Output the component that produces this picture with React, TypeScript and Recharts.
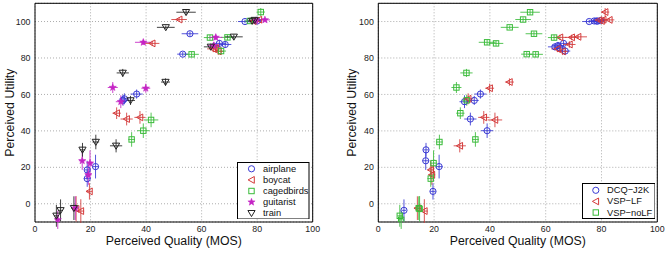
import React from "react";
import {
  ScatterChart,
  Scatter,
  XAxis,
  YAxis,
  CartesianGrid,
  ErrorBar,
  ReferenceArea,
  Legend,
  Label,
} from "recharts";

type Method = "D" | "L" | "N";
// [quality (MOS), utility, quality err, utility err, coding method]
type Row = [number, number, number, number, Method];

const AIRPLANE: Row[] = [
  [75.6, 100.0, 2.5, 1.0, "D"],
  [66.4, 88.0, 2.5, 1.8, "D"],
  [36.6, 60.2, 2.2, 2.5, "D"],
  [21.8, 20.4, 1.2, 6.5, "D"],
  [80.0, 100.3, 1.5, 1.0, "L"],
  [68.5, 87.4, 2.2, 1.8, "L"],
  [32.2, 57.6, 1.8, 3.0, "L"],
  [18.8, 18.6, 1.0, 5.0, "L"],
  [55.8, 93.3, 3.0, 1.2, "N"],
  [53.2, 82.1, 2.0, 1.2, "N"],
  [31.7, 56.8, 1.6, 3.0, "N"],
  [18.8, 13.8, 1.2, 4.5, "N"],
];

const BOYCAT: Row[] = [
  [78.6, 100.2, 1.8, 1.0, "D"],
  [65.0, 85.6, 2.2, 2.0, "D"],
  [33.0, 46.5, 2.2, 3.5, "D"],
  [19.6, 6.8, 1.0, 4.5, "D"],
  [80.6, 101.0, 1.8, 1.2, "L"],
  [64.2, 85.0, 2.2, 1.8, "L"],
  [66.0, 83.6, 2.0, 2.0, "L"],
  [37.8, 47.4, 2.0, 3.5, "L"],
  [16.5, -4.0, 1.2, 6.5, "L"],
  [51.9, 101.1, 2.8, 1.2, "N"],
  [42.2, 88.0, 2.6, 1.5, "N"],
  [29.4, 49.7, 1.5, 3.2, "N"],
  [14.8, -2.8, 1.0, 7.0, "N"],
];

const CAGEDBIRDS: Row[] = [
  [77.4, 100.3, 1.8, 1.0, "D"],
  [67.0, 83.8, 1.8, 2.0, "D"],
  [39.0, 40.1, 2.2, 4.0, "D"],
  [81.3, 105.2, 1.5, 2.2, "L"],
  [69.3, 91.3, 2.4, 1.5, "L"],
  [41.8, 46.0, 2.6, 4.0, "L"],
  [63.0, 91.2, 2.2, 1.5, "N"],
  [56.4, 82.0, 2.6, 1.5, "N"],
  [34.8, 35.3, 1.2, 4.0, "N"],
];

const GUITARIST: Row[] = [
  [79.6, 100.5, 1.8, 1.0, "D"],
  [64.4, 86.8, 2.2, 2.0, "D"],
  [30.9, 56.0, 1.8, 3.5, "D"],
  [17.0, 23.6, 1.2, 5.0, "D"],
  [82.8, 100.9, 1.8, 1.0, "L"],
  [65.1, 91.3, 2.4, 1.5, "L"],
  [39.9, 63.4, 1.6, 2.5, "L"],
  [19.2, 15.9, 1.2, 5.5, "L"],
  [39.0, 88.6, 3.0, 1.5, "N"],
  [28.0, 63.8, 1.8, 3.0, "N"],
  [19.8, 22.3, 1.2, 7.0, "N"],
  [14.5, -2.4, 1.0, 6.5, "N"],
  [8.2, -8.8, 1.0, 5.0, "N"],
];

const TRAIN: Row[] = [
  [78.2, 100.3, 2.0, 1.0, "D"],
  [63.3, 86.1, 2.5, 1.8, "D"],
  [34.4, 56.7, 1.6, 2.5, "D"],
  [17.1, 29.6, 1.0, 3.8, "D"],
  [9.2, -3.6, 0.8, 6.0, "D"],
  [79.1, 100.8, 2.0, 1.2, "L"],
  [71.6, 91.6, 3.2, 1.2, "L"],
  [47.0, 66.8, 1.6, 2.0, "L"],
  [29.2, 31.8, 2.2, 3.6, "L"],
  [14.0, -2.4, 1.0, 6.5, "L"],
  [54.4, 105.1, 3.5, 1.5, "N"],
  [47.1, 96.8, 3.2, 1.0, "N"],
  [31.6, 71.8, 2.2, 2.2, "N"],
  [21.9, 33.9, 1.2, 4.0, "N"],
  [7.7, -6.6, 0.9, 6.0, "N"],
];

const QUALITY_TICKS = [0, 20, 40, 60, 80, 100];
const UTILITY_TICKS = [0, 20, 40, 60, 80, 100];

const BLUE = "#3838d4";
const RED = "#d43a3a";
const GREEN = "#3abb3a";
const MAGENTA = "#c424c4";
const BLACK = "#222";

type MarkerKind = "circle" | "left" | "square" | "star" | "down";

const CONTENTS = [
  { name: "airplane", rows: AIRPLANE, color: BLUE, marker: "circle" as MarkerKind },
  { name: "boycat", rows: BOYCAT, color: RED, marker: "left" as MarkerKind },
  { name: "cagedbirds", rows: CAGEDBIRDS, color: GREEN, marker: "square" as MarkerKind },
  { name: "guitarist", rows: GUITARIST, color: MAGENTA, marker: "star" as MarkerKind },
  { name: "train", rows: TRAIN, color: BLACK, marker: "down" as MarkerKind },
];

const METHODS = [
  { key: "D" as Method, name: "DCQ\u2212J2K", color: BLUE, marker: "circle" as MarkerKind },
  { key: "L" as Method, name: "VSP\u2212LF", color: RED, marker: "left" as MarkerKind },
  { key: "N" as Method, name: "VSP\u2212noLF", color: GREEN, marker: "square" as MarkerKind },
];

const ALL_ROWS = CONTENTS.flatMap((c) => c.rows);

const toPoints = (rows: Row[]) =>
  rows.map(([q, u, qErr, uErr]) => ({ q, u, qErr, uErr }));

const PANEL_W = 335;
const PANEL_H = 253;
const PLOT_TOP = 3.3;
const PLOT_BOTTOM = 222;
const FONT = "'Liberation Sans', Arial, Helvetica, sans-serif";

function Glyph({ kind, color, x, y }: { kind: MarkerKind; color: string; x: number; y: number }) {
  const sw = 1;
  switch (kind) {
    case "circle":
      return <circle cx={x} cy={y} r={3.1} fill="none" stroke={color} strokeWidth={sw} />;
    case "left":
      return (
        <polygon
          points={`${x - 3.4},${y} ${x + 2.8},${y - 3.4} ${x + 2.8},${y + 3.4}`}
          fill="none"
          stroke={color}
          strokeWidth={sw}
        />
      );
    case "square":
      return <rect x={x - 2.7} y={y - 2.7} width={5.4} height={5.4} fill="none" stroke={color} strokeWidth={sw} />;
    case "down":
      return (
        <polygon
          points={`${x - 3.6},${y - 2.7} ${x + 3.6},${y - 2.7} ${x},${y + 3.4}`}
          fill="none"
          stroke={color}
          strokeWidth={sw}
        />
      );
    case "star": {
      const pts: string[] = [];
      for (let i = 0; i < 10; i++) {
        const r = i % 2 === 0 ? 3.8 : 1.6;
        const a = -Math.PI / 2 + (i * Math.PI) / 5;
        pts.push(`${x + r * Math.cos(a)},${y + r * Math.sin(a)}`);
      }
      return <polygon points={pts.join(" ")} fill={color} stroke={color} strokeWidth={0.5} />;
    }
  }
  return null;
}

const markerShape = (kind: MarkerKind, color: string) => (props: any) =>
  <Glyph kind={kind} color={color} x={props.cx} y={props.cy} />;

type LegendEntry = { name: string; color: string; marker: MarkerKind };

function LegendBox({
  entries,
  width,
  height,
  rowTop,
  markerX,
  textX,
}: {
  entries: LegendEntry[];
  width: number;
  height: number;
  rowTop: number;
  markerX: number;
  textX: number;
}) {
  return (
    <svg width={width} height={height} style={{ display: "block", fontFamily: FONT }}>
      <rect x={0.5} y={0.5} width={width - 1} height={height - 1} fill="#fff" stroke="#000" strokeWidth={1} />
      {entries.map((e, i) => {
        const y = rowTop + i * 11.1;
        return (
          <g key={e.name}>
            <Glyph kind={e.marker} color={e.color} x={markerX} y={y} />
            <text x={textX} y={y} dominantBaseline="central" fontSize={9.3} fill="#111">
              {e.name}
            </text>
          </g>
        );
      })}
    </svg>
  );
}

type Series = { name: string; color: string; marker: MarkerKind; points: ReturnType<typeof toPoints> };

function Panel({
  series,
  yAxisWidth,
  rightGap,
  yTitleX,
  legendBox,
}: {
  series: Series[];
  yAxisWidth: number;
  rightGap: number;
  yTitleX: number;
  legendBox: { left: number; top: number; width: number; height: number; rowTop: number; markerX: number; textX: number };
}) {
  const plotCenterX = (yAxisWidth + PANEL_W - rightGap) / 2;
  const plotCenterY = (PLOT_TOP + PLOT_BOTTOM) / 2;
  return (
    <ScatterChart
      width={PANEL_W}
      height={PANEL_H}
      margin={{ top: PLOT_TOP, right: rightGap, bottom: 0, left: 0 }}
      style={{ fontFamily: FONT }}
    >
      <CartesianGrid stroke="#8a8a8a" strokeDasharray="1 2" strokeWidth={0.7} />
      <XAxis
        type="number"
        dataKey="q"
        domain={[0, 100]}
        ticks={QUALITY_TICKS}
        interval={0}
        allowDataOverflow
        height={PANEL_H - PLOT_BOTTOM}
        axisLine={false}
        tickLine={false}
        tickSize={0}
        tickMargin={4}
        tick={{ fontSize: 8.8, fill: "#222" }}
      >
        <Label
          content={() => (
            <text x={plotCenterX} y={240.5} textAnchor="middle" dominantBaseline="central" fontSize={12.3} fill="#111">
              Perceived Quality (MOS)
            </text>
          )}
        />
      </XAxis>
      <YAxis
        type="number"
        dataKey="u"
        domain={[-10, 110]}
        ticks={UTILITY_TICKS}
        interval={0}
        allowDataOverflow
        width={yAxisWidth}
        axisLine={false}
        tickLine={false}
        tickSize={0}
        tickMargin={4.5}
        tick={{ fontSize: 8.8, fill: "#222" }}
      >
        <Label
          content={() => (
            <text
              x={yTitleX}
              y={plotCenterY}
              textAnchor="middle"
              dominantBaseline="central"
              fontSize={12.3}
              fill="#111"
              transform={`rotate(-90 ${yTitleX} ${plotCenterY})`}
            >
              Perceived Utility
            </text>
          )}
        />
      </YAxis>
      {series.map((s) => (
        <Scatter
          key={s.name}
          name={s.name}
          data={s.points}
          isAnimationActive={false}
          shape={markerShape(s.marker, s.color)}
        >
          <ErrorBar dataKey="qErr" direction="x" width={0} stroke={s.color} strokeWidth={1} strokeOpacity={0.85} />
          <ErrorBar dataKey="uErr" direction="y" width={0} stroke={s.color} strokeWidth={1} strokeOpacity={0.85} />
        </Scatter>
      ))}
      <ReferenceArea x1={0} x2={100} y1={-10} y2={110} fill="none" stroke="#000" strokeWidth={1} />
      <Legend
        layout="vertical"
        align="center"
        verticalAlign="middle"
        wrapperStyle={{ left: legendBox.left, top: legendBox.top, width: legendBox.width, height: legendBox.height }}
        content={() => (
          <LegendBox
            entries={series}
            width={legendBox.width}
            height={legendBox.height}
            rowTop={legendBox.rowTop}
            markerX={legendBox.markerX}
            textX={legendBox.textX}
          />
        )}
      />
    </ScatterChart>
  );
}

export default function App() {
  const byContent: Series[] = CONTENTS.map((c) => ({
    name: c.name,
    color: c.color,
    marker: c.marker,
    points: toPoints(c.rows),
  }));
  const byMethod: Series[] = METHODS.map((m) => ({
    name: m.name,
    color: m.color,
    marker: m.marker,
    points: toPoints(ALL_ROWS.filter((r) => r[4] === m.key)),
  }));

  return (
    <div
      style={{
        position: "absolute",
        left: 0,
        top: 0,
        width: 670,
        height: 253,
        background: "#fff",
        fontFamily: FONT,
      }}
    >
      <div style={{ position: "absolute", left: 0, top: 0 }}>
        <Panel
          series={byContent}
          yAxisWidth={35}
          rightGap={22.3}
          yTitleX={9.6}
          legendBox={{ left: 237, top: 161.5, width: 72.5, height: 57.5, rowTop: 6.8, markerX: 14.5, textX: 26 }}
        />
      </div>
      <div style={{ position: "absolute", left: 335, top: 0 }}>
        <Panel
          series={byMethod}
          yAxisWidth={43.3}
          rightGap={12.7}
          yTitleX={16.7}
          legendBox={{ left: 246.7, top: 183, width: 73.5, height: 36, rowTop: 7.3, markerX: 13.8, textX: 25 }}
        />
      </div>
    </div>
  );
}
